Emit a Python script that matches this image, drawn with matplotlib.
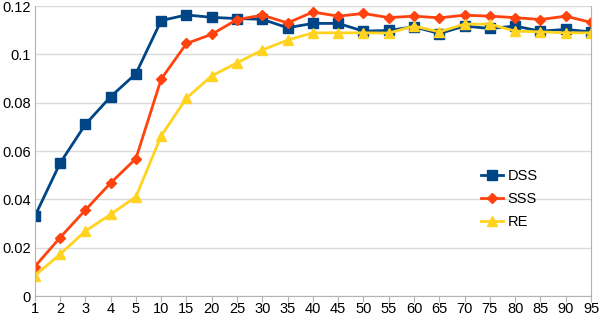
import numpy as np
import matplotlib
matplotlib.use('Agg')
import matplotlib.pyplot as plt

plt.rcParams['font.family'] = ['Liberation Sans', 'DejaVu Sans']

categories = ['1', '2', '3', '4', '5', '10', '15', '20', '25', '30', '35', '40',
              '45', '50', '55', '60', '65', '70', '75', '80', '85', '90', '95']
dss = [0.033, 0.055, 0.071, 0.0825, 0.092, 0.114, 0.1163, 0.1153, 0.1148, 0.1145,
       0.111, 0.1128, 0.1128, 0.1096, 0.1099, 0.1114, 0.1086, 0.1117, 0.1107,
       0.1117, 0.1096, 0.1103, 0.1093]
sss = [0.0122, 0.0242, 0.0356, 0.0468, 0.0569, 0.0898, 0.1045, 0.1083, 0.1144,
       0.1162, 0.1130, 0.1175, 0.1158, 0.1169, 0.1152, 0.1158, 0.1151, 0.1162,
       0.1158, 0.1152, 0.1144, 0.1158, 0.1132]
re = [0.0084, 0.0173, 0.0269, 0.0338, 0.0411, 0.0663, 0.0819, 0.0911, 0.0965,
      0.1018, 0.1059, 0.1089, 0.1089, 0.1089, 0.1088, 0.1117, 0.1093, 0.1125,
      0.1125, 0.1096, 0.1093, 0.1089, 0.1089]

x = np.arange(len(categories))

fig = plt.figure(figsize=(6, 3.16), dpi=100)
ax = fig.add_axes([0.058, 0.063, 0.927, 0.918])

ax.plot(x, dss, color='#004586', marker='s', markersize=7, linewidth=2, label='DSS')
ax.plot(x, sss, color='#ff420e', marker='D', markersize=5.5, linewidth=2, label='SSS')
ax.plot(x, re, color='#ffd320', marker='^', markersize=7.5, linewidth=2, label='RE')

ax.set_xlim(0, len(categories) - 1)
ax.set_ylim(0, 0.12)
ax.set_xticks(x)
ax.set_xticklabels(categories)
ax.set_yticks([0, 0.02, 0.04, 0.06, 0.08, 0.1, 0.12])
ax.set_yticklabels(['0', '0.02', '0.04', '0.06', '0.08', '0.1', '0.12'])
ax.tick_params(axis='both', labelsize=10.5, colors='black')
ax.tick_params(axis='x', length=4, color='#b3b3b3', pad=0.5)
ax.tick_params(axis='y', length=0, pad=3)
ax.yaxis.grid(True, color='#d9d9d9', linewidth=1)
ax.set_axisbelow(True)
for s in ['left', 'bottom', 'right']:
    ax.spines[s].set_color('#b3b3b3')
ax.spines['top'].set_visible(False)

ax.legend(loc='center left', bbox_to_anchor=(0.79, 0.335), frameon=False,
          fontsize=10.5, handlelength=1.5, handletextpad=0.3, labelspacing=0.62,
          borderpad=0)

fig.savefig('out.png', dpi=100)
